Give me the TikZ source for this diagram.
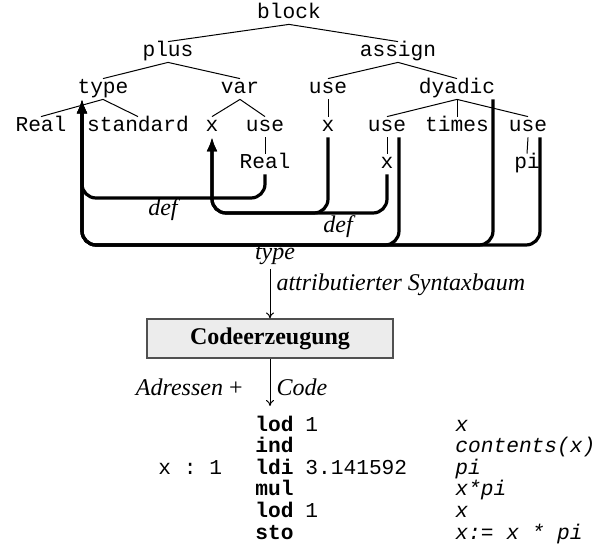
\documentclass[tikz,border=0pt]{standalone}
\usepackage{fontspec}
\setmainfont{Liberation Serif}
\setmonofont{Liberation Mono}
\usepackage{tikz}
\usetikzlibrary{arrows.meta}
\definecolor{genfill}{RGB}{236,236,236}
\definecolor{genline}{RGB}{80,80,80}

\begin{document}
\begin{tikzpicture}[x=0.5pt, y=-0.5pt,
  font=\fontsize{12}{14}\selectfont,
  tn/.style={font=\fontsize{10.6}{12}\selectfont\ttfamily, inner sep=0.5pt,
             text height=7pt, text depth=2pt},
  code/.style={font=\fontsize{10.6}{12}\selectfont\ttfamily, inner sep=0pt, anchor=base west},
  edge/.style={line width=0.5pt},
  attr/.style={-{Latex[length=7pt,width=5.5pt]}, line width=1.6pt, rounded corners=7pt},
  flow/.style={-{To[length=3pt,width=4pt]}, line width=0.5pt},
  lbl/.style={font=\fontsize{12}{14}\selectfont\itshape, inner sep=1pt},
  genbox/.style={draw=genline, fill=genfill, line width=0.6pt, minimum width=123pt,
                 minimum height=19.5pt, font=\fontsize{12}{14}\selectfont\bfseries}
]
\useasboundingbox (0,0) rectangle (615,555);

% Syntaxbaum
\node[tn] (block)    at (289,14)  {block};
\node[tn] (plus)     at (168,52)  {plus};
\node[tn] (assign)   at (398,52)  {assign};
\node[tn] (type)     at (103,89)  {type};
\node[tn] (var)      at (240,89)  {var};
\node[tn] (usea)     at (328,89)  {use};
\node[tn] (dyadic)   at (457,89)  {dyadic};
\node[tn] (real)     at (41,127)  {Real};
\node[tn] (standard) at (138,127) {standard};
\node[tn] (xv)       at (212,127) {x};
\node[tn] (usev)     at (265,127) {use};
\node[tn] (xa)       at (328,127) {x};
\node[tn] (used)     at (387,127) {use};
\node[tn] (times)    at (457,127) {times};
\node[tn] (usep)     at (528,127) {use};
\node[tn] (realv)    at (265,164) {Real};
\node[tn] (xd)       at (387,164) {x};
\node[tn] (pi)       at (527,164) {pi};

\foreach \p/\c in {block/plus, block/assign, plus/type, plus/var, assign/usea, assign/dyadic,
                   type/real, type/standard, var/xv, var/usev, usea/xa, dyadic/used,
                   dyadic/times, dyadic/usep, usev/realv, used/xd, usep/pi}
  \draw[edge] (\p.south) -- (\c.north);

% Attribute
\coordinate (typein) at ([xshift=-10.5pt]type.south);
\coordinate (defrowa) at (0,198);
\coordinate (defrowb) at (0,213);
\coordinate (typerow) at (0,245);
\coordinate (tdy)  at ([xshift=18pt]dyadic.south);
\coordinate (tux)  at ([xshift=6pt]used.south);
\coordinate (tupi) at ([xshift=6pt]usep.south);

\draw[attr] (realv.south) |- (typein |- defrowa) -- (typein);
\foreach \s in {xa, xd}
  \draw[attr] (\s.south) |- (xv.south |- defrowb) -- (xv.south);
\foreach \s in {tdy, tux, tupi}
  \draw[attr] (\s) |- (typein |- typerow) -- (typein);

\node[lbl] (defa)    at (163,210) {def};
\node[lbl] (defb)    at (338,227) {def};
\node[lbl] (typelbl) at (275,255) {type};

% Codeerzeugung
\coordinate (treeout) at (270,269);
\coordinate (codein)  at (270,406);
\node[genbox] (gen) at (270,338.5) {Codeerzeugung};
\draw[flow] (treeout) -- (gen.north) node[pos=0.32, right=2pt, lbl] {attributierter Syntaxbaum};
\draw[flow] (gen.south) -- (codein) node[pos=0.6, right=2pt, lbl] {Code};
\node[lbl, anchor=east] (addrlbl) at (245,387) {Adressen \textup{+}};

% Code
\foreach \op/\arg/\cm [count=\i] in {lod/1/x, ind//contents(x), ldi/3.141592/pi,
                                     mul//x*pi, lod/1/x, sto//{x:= x * pi}} {
  \node[code] (op\i)  at (255,409.5+21.6*\i) {\textbf{\op}};
  \node[code] (arg\i) at (305,409.5+21.6*\i) {\arg};
  \node[code] (cm\i)  at (455,409.5+21.6*\i) {\textit{\cm}};
}
\node[code] (addr) at (158,474.3) {x : 1};

\end{tikzpicture}
\end{document}
